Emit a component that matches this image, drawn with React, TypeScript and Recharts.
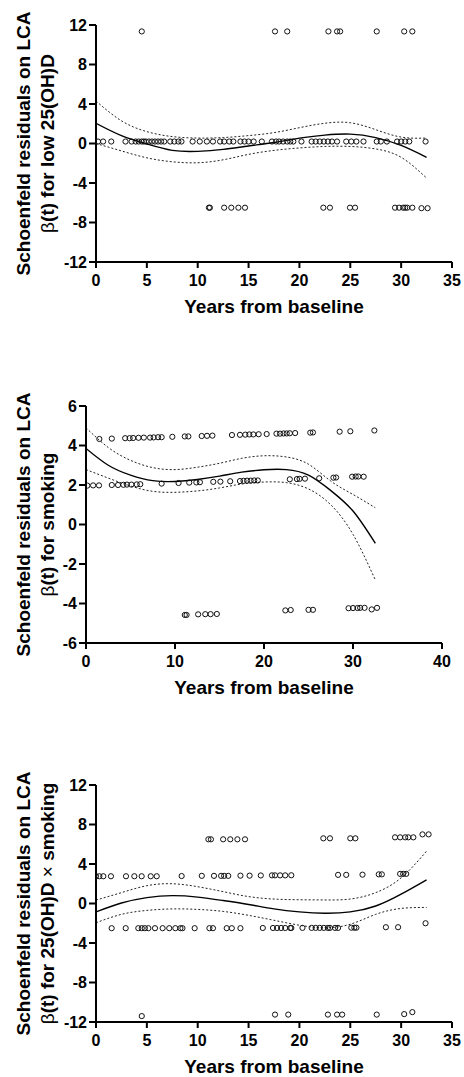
import React from "react";
import { ComposedChart, Line, Scatter, XAxis, YAxis } from "recharts";

const FONT = '"Liberation Sans", Arial, Helvetica, sans-serif';

// time grid for the fitted beta(t) curves
const curveT = [0, 2.5, 5, 7.5, 10, 12.5, 15, 17.5, 20, 22.5, 25, 27.5, 30, 32.5];

// panel 1: low 25(OH)D
const p1Fit = [2.05, 0.8, -0.05, -0.7, -0.8, -0.6, -0.25, 0.1, 0.55, 0.85, 0.95, 0.6, -0.2, -1.4];
const p1Hi = [4.3, 2.3, 1.2, 0.7, 0.55, 0.6, 0.8, 1.1, 1.6, 2.05, 2.1, 1.4, 0.65, 0.55];
const p1Lo = [0, -0.75, -1.45, -1.85, -1.95, -1.65, -1.1, -0.7, -0.45, -0.3, -0.3, -0.55, -1.4, -3.5];
const p1Points: [number, number][] = [
  [0.2, 0.2], [0.7, 0.2], [1.5, 0.2], [2.9, 0.2], [3.5, 0.2], [3.9, 0.2], [4.2, 0.2], [4.5, 0.2],
  [4.7, 0.2], [4.9, 0.2], [5.2, 0.2], [5.5, 0.2], [5.8, 0.2], [6.1, 0.2], [6.4, 0.2], [6.7, 0.2],
  [7.3, 0.2], [7.7, 0.2], [8.1, 0.2], [8.4, 0.2], [9.5, 0.2], [10.2, 0.2], [10.9, 0.2], [11.5, 0.2],
  [12.2, 0.2], [12.6, 0.2], [13.1, 0.2], [13.5, 0.2], [14.2, 0.2], [14.6, 0.2], [15.0, 0.2], [15.5, 0.2],
  [16.3, 0.2], [17.3, 0.2], [17.7, 0.2], [18.0, 0.2], [18.4, 0.2], [18.8, 0.2], [19.1, 0.2], [19.4, 0.2],
  [20.2, 0.2], [21.2, 0.2], [21.6, 0.2], [22.0, 0.2], [22.4, 0.2], [22.8, 0.2], [23.2, 0.2], [23.7, 0.2],
  [24.6, 0.2], [25.1, 0.2], [25.6, 0.2], [26.3, 0.2], [27.6, 0.2], [28.0, 0.2], [28.6, 0.2], [29.6, 0.2],
  [30.0, 0.2], [30.4, 0.2], [30.8, 0.2], [32.4, 0.2],
  [4.5, 11.35], [17.6, 11.35], [18.8, 11.35], [22.85, 11.35], [23.7, 11.35], [24.0, 11.35],
  [27.6, 11.35], [30.3, 11.35], [31.1, 11.35],
  [11.1, -6.5], [11.2, -6.5], [12.6, -6.5], [13.3, -6.5], [14.0, -6.5], [14.65, -6.5],
  [22.35, -6.5], [23.0, -6.5], [24.97, -6.5], [25.47, -6.5], [29.4, -6.5], [29.8, -6.5],
  [30.2, -6.5], [30.4, -6.5], [30.6, -6.5], [31.1, -6.5], [32.0, -6.55], [32.6, -6.55],
];

// panel 2: smoking
const p2Fit = [3.85, 3.0, 2.5, 2.22, 2.18, 2.28, 2.45, 2.65, 2.77, 2.78, 2.5, 1.72, 0.68, -0.95];
const p2Hi = [4.9, 3.9, 3.25, 2.88, 2.78, 2.9, 3.1, 3.35, 3.48, 3.42, 3.05, 2.2, 1.52, 0.85];
const p2Lo = [2.78, 2.35, 1.95, 1.68, 1.63, 1.7, 1.85, 2.05, 2.15, 2.12, 1.8, 1.0, -0.5, -2.8];
const p2Points: [number, number][] = [
  [1.5, 4.33], [2.9, 4.35], [4.4, 4.37], [4.9, 4.37], [5.3, 4.38], [5.9, 4.39], [6.5, 4.4], [7.2, 4.4],
  [7.6, 4.41], [8.1, 4.42], [8.5, 4.42], [9.7, 4.44], [11.1, 4.46], [11.5, 4.46], [13.0, 4.48],
  [13.6, 4.49], [14.2, 4.5], [16.4, 4.53], [17.3, 4.54], [17.9, 4.55], [18.35, 4.56], [18.8, 4.56],
  [19.4, 4.57], [20.3, 4.58], [21.4, 4.6], [21.8, 4.6], [22.2, 4.61], [22.55, 4.61], [22.9, 4.62],
  [23.5, 4.63], [25.2, 4.65], [25.5, 4.66], [28.5, 4.7], [29.7, 4.72], [32.4, 4.76],
  [0.15, 1.97], [0.8, 1.98], [1.46, 1.98], [2.9, 2.0], [3.6, 2.0], [4.2, 2.01], [4.6, 2.02],
  [5.1, 2.02], [5.7, 2.03], [6.1, 2.04], [8.5, 2.07], [10.4, 2.1], [11.6, 2.12], [12.4, 2.13],
  [12.8, 2.14], [14.3, 2.16], [15.1, 2.17], [16.2, 2.19], [17.3, 2.2], [17.7, 2.21], [18.1, 2.22],
  [18.5, 2.22], [18.9, 2.23], [19.3, 2.23], [22.9, 2.29], [23.7, 2.3], [24.0, 2.31], [24.6, 2.32],
  [26.2, 2.34], [27.8, 2.37], [28.1, 2.38], [29.9, 2.42], [30.3, 2.43], [30.6, 2.43], [31.2, 2.42],
  [11.1, -4.58], [11.3, -4.58], [12.6, -4.55], [13.4, -4.54], [14.0, -4.54], [14.7, -4.53],
  [22.4, -4.35], [23.0, -4.33], [25.0, -4.32], [25.5, -4.32], [29.5, -4.24], [30.0, -4.23],
  [30.5, -4.23], [30.8, -4.22], [31.3, -4.22], [32.1, -4.3], [32.7, -4.22],
];

// panel 3: 25(OH)D x smoking
const p3Fit = [-0.85, 0.05, 0.6, 0.8, 0.65, 0.3, -0.1, -0.55, -0.85, -0.98, -0.85, -0.25, 0.95, 2.4];
const p3Hi = [0.35, 1.1, 1.8, 2.0, 1.7, 1.2, 0.7, 0.45, 0.38, 0.36, 0.45, 1.1, 2.6, 5.3];
const p3Lo = [-1.95, -1.1, -0.7, -0.55, -0.6, -0.8, -1.2, -1.7, -2.2, -2.45, -2.1, -1.1, -0.5, -0.4];
const p3Points: [number, number][] = [
  [0.0, 2.76], [0.33, 2.76], [0.72, 2.76], [1.47, 2.76], [2.95, 2.76], [3.77, 2.76], [4.49, 2.76],
  [5.38, 2.76], [5.97, 2.76], [8.42, 2.78], [10.4, 2.8], [11.6, 2.8], [12.3, 2.8], [12.6, 2.8],
  [13.0, 2.8], [14.2, 2.82], [15.1, 2.82], [16.2, 2.84], [17.3, 2.85], [17.6, 2.85], [18.1, 2.85],
  [18.6, 2.85], [19.2, 2.86], [23.8, 2.9], [24.6, 2.9], [26.2, 2.92], [27.8, 2.95], [28.1, 2.95],
  [29.9, 3.0], [30.2, 3.0], [30.5, 3.0],
  [11.05, 6.5], [11.3, 6.5], [12.5, 6.5], [13.2, 6.5], [13.9, 6.5], [14.65, 6.5], [22.35, 6.6],
  [23.0, 6.6], [25.0, 6.6], [25.5, 6.6], [29.4, 6.7], [29.9, 6.7], [30.4, 6.7], [30.7, 6.7],
  [31.2, 6.7], [32.1, 7.0], [32.7, 7.0],
  [1.54, -2.5], [2.92, -2.5], [4.16, -2.5], [4.5, -2.5], [4.8, -2.5], [5.15, -2.5], [5.8, -2.5],
  [6.55, -2.5], [7.2, -2.5], [7.8, -2.5], [8.3, -2.5], [8.5, -2.5], [9.7, -2.5], [11.15, -2.5],
  [11.5, -2.5], [12.85, -2.5], [13.35, -2.5], [14.2, -2.5], [16.4, -2.48], [17.4, -2.48],
  [17.8, -2.48], [18.2, -2.48], [18.6, -2.48], [19.1, -2.48], [19.2, -2.48], [20.3, -2.47],
  [21.2, -2.47], [21.6, -2.47], [22.0, -2.47], [22.4, -2.47], [22.8, -2.47], [23.0, -2.47],
  [23.5, -2.47], [23.8, -2.47], [25.1, -2.45], [25.4, -2.45], [25.6, -2.45], [28.5, -2.4],
  [29.7, -2.4], [32.4, -2.0],
  [4.5, -11.4], [17.6, -11.25], [18.9, -11.25], [22.8, -11.25], [23.7, -11.25], [24.2, -11.25],
  [27.6, -11.25], [30.3, -11.2], [31.1, -11.0],
];

const xTicks35 = [0, 5, 10, 15, 20, 25, 30, 35];
const xTicks40 = [0, 10, 20, 30, 40];
const yTicks12 = [-12, -8, -4, 0, 4, 8, 12];
const yTicks6 = [-6, -4, -2, 0, 2, 4, 6];

function buildRows(fit: number[], hi: number[], lo: number[]) {
  return curveT.map((t, i) => ({ t, fit: fit[i], hi: hi[i], lo: lo[i] }));
}

const OpenCircle = (props: any) => (
  <circle cx={props.cx} cy={props.cy} r={2.6} fill="none" stroke="#111" strokeWidth={1} />
);

function Panel({
  fit, hi, lo, points, xMax, xTicks, yMax, yTicks, yWidth, height, margin, line2,
}: {
  fit: number[]; hi: number[]; lo: number[]; points: [number, number][];
  xMax: number; xTicks: number[]; yMax: number; yTicks: number[];
  yWidth: number; height: number;
  margin: { top: number; right: number; bottom: number; left: number };
  line2: React.ReactNode;
}) {
  const rows = buildRows(fit, hi, lo);
  const pts = points.map(([t, v]) => ({ t, v }));

  const YTitle = ({ viewBox }: any) => {
    const cy = viewBox.y + viewBox.height / 2;
    return (
      <g fontFamily={FONT} fontWeight={700} fontSize={19} fill="#000">
        <text x={30} y={cy} textAnchor="middle" transform={`rotate(-90, 30, ${cy})`}>
          Schoenfeld residuals on LCA
        </text>
        <text x={54} y={cy} textAnchor="middle" transform={`rotate(-90, 54, ${cy})`}>
          {line2}
        </text>
      </g>
    );
  };

  const XTitle = ({ viewBox }: any) => (
    <text
      x={viewBox.x + viewBox.width / 2}
      y={viewBox.y + 51}
      textAnchor="middle"
      fontFamily={FONT}
      fontWeight={700}
      fontSize={19}
      fill="#000"
    >
      Years from baseline
    </text>
  );

  const tickStyle = { fontSize: 16, fontWeight: 700, fill: "#000", fontFamily: FONT };

  return (
    <ComposedChart width={464} height={height} data={rows} margin={margin}>
      <XAxis
        type="number"
        dataKey="t"
        domain={[0, xMax]}
        ticks={xTicks}
        interval={0}
        allowDataOverflow
        axisLine={{ stroke: "#000", strokeWidth: 2 }}
        tickLine={{ stroke: "#000", strokeWidth: 2 }}
        tickSize={6}
        tickMargin={7}
        tick={tickStyle}
        height={height - margin.top - margin.bottom - 237 > 0 ? height - margin.top - margin.bottom - 237 : 50}
        label={<XTitle />}
      />
      <YAxis
        type="number"
        domain={[-yMax, yMax]}
        ticks={yTicks}
        interval={0}
        allowDataOverflow
        width={yWidth}
        axisLine={{ stroke: "#000", strokeWidth: 2 }}
        tickLine={{ stroke: "#000", strokeWidth: 2 }}
        tickSize={7}
        tickMargin={2}
        tick={tickStyle}
        label={<YTitle />}
      />
      <Scatter data={pts} dataKey="v" shape={<OpenCircle />} isAnimationActive={false} />
      <Line dataKey="hi" type="natural" stroke="#222" strokeWidth={1} strokeDasharray="2 2" dot={false} isAnimationActive={false} />
      <Line dataKey="lo" type="natural" stroke="#222" strokeWidth={1} strokeDasharray="2 2" dot={false} isAnimationActive={false} />
      <Line dataKey="fit" type="natural" stroke="#000" strokeWidth={1.4} dot={false} isAnimationActive={false} />
    </ComposedChart>
  );
}

export default function App() {
  return (
    <div style={{ position: "absolute", left: 0, top: 0, width: 464, height: 1077, background: "#fff" }}>
      <Panel
        fit={p1Fit} hi={p1Hi} lo={p1Lo} points={p1Points}
        xMax={35} xTicks={xTicks35} yMax={12} yTicks={yTicks12}
        yWidth={96} height={340}
        margin={{ top: 25, right: 12, bottom: 18, left: 0 }}
        line2={<><tspan fontWeight={400}>β</tspan>(t) for low 25(OH)D</>}
      />
      <Panel
        fit={p2Fit} hi={p2Hi} lo={p2Lo} points={p2Points}
        xMax={40} xTicks={xTicks40} yMax={6} yTicks={yTicks6}
        yWidth={86} height={360}
        margin={{ top: 66, right: 22, bottom: 8, left: 0 }}
        line2={<><tspan fontWeight={400}>β</tspan>(t) for smoking</>}
      />
      <Panel
        fit={p3Fit} hi={p3Hi} lo={p3Lo} points={p3Points}
        xMax={35} xTicks={xTicks35} yMax={12} yTicks={yTicks12}
        yWidth={96} height={377}
        margin={{ top: 85, right: 12, bottom: 0, left: 0 }}
        line2={<><tspan fontWeight={400}>β</tspan>(t) for 25(OH)D <tspan fontWeight={400}>×</tspan> smoking</>}
      />
    </div>
  );
}
